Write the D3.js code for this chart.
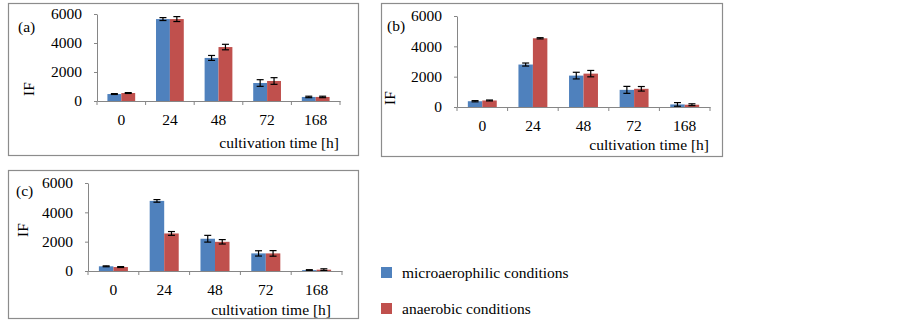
<!DOCTYPE html>
<html>
<head>
<meta charset="utf-8">
<script src="https://cdn.jsdelivr.net/npm/d3@7"></script>
<style>
  body { margin: 0; background: #fff; }
  text { font-family: "Liberation Serif", "Times New Roman", serif; fill: #000; }
</style>
</head>
<body>
<svg id="chart" width="902" height="325"></svg>
<script>
// Chart data
const categories = ["0", "24", "48", "72", "168"];
const yTicks = [0, 2000, 4000, 6000];
const seriesNames = ["microaerophilic conditions", "anaerobic conditions"];
const seriesColors = ["#4F81BD", "#C0504D"];

// panel (a)
const microA = [480, 5650, 2970, 1240, 280];
const microAErr = [30, 100, 170, 230, 50];
const anaerA = [550, 5650, 3720, 1380, 280];
const anaerAErr = [30, 170, 190, 230, 50];

// panel (b)
const microB = [380, 2800, 2070, 1130, 170];
const microBErr = [40, 100, 220, 230, 120];
const anaerB = [430, 4530, 2200, 1200, 150];
const anaerBErr = [30, 40, 210, 150, 60];

// panel (c)
const microC = [320, 4780, 2200, 1200, 60];
const microCErr = [30, 90, 230, 180, 30];
const anaerC = [270, 2560, 1990, 1200, 90];
const anaerCErr = [30, 130, 150, 190, 60];

const svg = d3.select("#chart");

// Draws one boxed panel
const drawPanel = (cfg, micro, microErr, anaer, anaerErr) => {
    let g = svg.append("g");

    // frame
    g.append("rect")
        .attr("x", cfg.frame[0] + 0.5).attr("y", cfg.frame[1] + 0.5)
        .attr("width", cfg.frame[2]).attr("height", cfg.frame[3])
        .attr("fill", "#fff").attr("stroke", "#8c8c8c").attr("stroke-width", 1.2);

    let x = d3.scaleBand()
        .domain(categories)
        .range([cfg.left, cfg.right])
        .paddingInner(0.4286)
        .paddingOuter(0.2143);
    let xInner = d3.scaleBand()
        .domain([0, 1])
        .range([0, x.bandwidth()]);
    let y = d3.scaleLinear()
        .domain([0, 6000])
        .range([cfg.bottom, cfg.top]);

    // bars
    let rows = categories.map((c, i) => ({
        cat: c,
        vals: [[micro[i], microErr[i]], [anaer[i], anaerErr[i]]]
    }));
    let groups = g.selectAll("g.grp")
        .data(rows)
        .enter()
        .append("g")
        .attr("class", "grp")
        .attr("transform", d => `translate(${x(d.cat)},0)`);

    groups.selectAll("rect")
        .data(d => d.vals)
        .enter()
        .append("rect")
        .attr("x", (d, j) => xInner(j))
        .attr("y", d => y(d[0]))
        .attr("width", xInner.bandwidth())
        .attr("height", d => y(0) - y(d[0]))
        .attr("fill", (d, j) => seriesColors[j]);

    // error bars
    let err = groups.selectAll("g.err")
        .data(d => d.vals)
        .enter()
        .append("g")
        .attr("class", "err")
        .attr("stroke", "#000")
        .attr("stroke-width", 1.2);
    err.append("line")
        .attr("x1", (d, j) => xInner(j) + xInner.bandwidth() / 2)
        .attr("x2", (d, j) => xInner(j) + xInner.bandwidth() / 2)
        .attr("y1", d => y(d[0] + d[1]))
        .attr("y2", d => y(d[0] - d[1]));
    [1, -1].forEach(s => {
        err.append("line")
            .attr("x1", (d, j) => xInner(j) + xInner.bandwidth() / 2 - 3.5)
            .attr("x2", (d, j) => xInner(j) + xInner.bandwidth() / 2 + 3.5)
            .attr("y1", d => y(d[0] + s * d[1]))
            .attr("y2", d => y(d[0] + s * d[1]));
    });

    // y axis
    let yAxis = g.append("g")
        .attr("transform", `translate(${cfg.left},0)`)
        .call(d3.axisLeft(y).tickValues(yTicks).tickFormat(d3.format("d"))
            .tickSize(3).tickPadding(12).tickSizeOuter(0));
    yAxis.selectAll("text").style("font-size", "15.5px").style("font-family", "Liberation Serif");

    // x axis
    let xAxis = g.append("g")
        .attr("transform", `translate(0,${cfg.bottom})`)
        .call(d3.axisBottom(x).tickSize(0).tickPadding(13).tickSizeOuter(0));
    xAxis.selectAll("text").style("font-size", "15.5px").style("font-family", "Liberation Serif");
    // boundary ticks between categories
    let bounds = d3.range(categories.length + 1).map(i => cfg.left + i * x.step());
    xAxis.selectAll("line.bound")
        .data(bounds)
        .enter()
        .append("line")
        .attr("class", "bound")
        .attr("x1", d => d).attr("x2", d => d)
        .attr("y1", 0).attr("y2", 4)
        .attr("stroke", "#868686");

    g.selectAll(".domain, .tick line").attr("stroke", "#868686");

    // panel letter
    g.append("text")
        .attr("x", cfg.label[0]).attr("y", cfg.label[1])
        .style("font-size", "15.5px")
        .text(cfg.name);

    // y title
    g.append("text")
        .attr("transform", `translate(${cfg.ytitle[0]},${cfg.ytitle[1]}) rotate(-90)`)
        .attr("text-anchor", "middle")
        .style("font-size", "15.5px")
        .text("IF");

    // x title
    g.append("text")
        .attr("x", cfg.xtitle[0]).attr("y", cfg.xtitle[1])
        .attr("text-anchor", "end")
        .style("font-size", "15.5px")
        .text("cultivation time [h]");
};

drawPanel({
    name: "(a)", frame: [8, 3, 350, 152],
    left: 97, right: 340, top: 14, bottom: 101,
    label: [18, 32], ytitle: [34, 89], xtitle: [339, 148]
}, microA, microAErr, anaerA, anaerAErr);

drawPanel({
    name: "(b)", frame: [381, 3, 341, 153],
    left: 457, right: 710, top: 16, bottom: 107,
    label: [387, 31], ytitle: [395, 98], xtitle: [709, 150]
}, microB, microBErr, anaerB, anaerBErr);

drawPanel({
    name: "(c)", frame: [8, 170, 350, 148],
    left: 88, right: 342, top: 183, bottom: 271,
    label: [16, 196], ytitle: [28, 230], xtitle: [331, 315]
}, microC, microCErr, anaerC, anaerCErr);

// legend
let legend = svg.append("g");
seriesNames.forEach((name, i) => {
    legend.append("rect")
        .attr("x", 381).attr("y", 267 + i * 36)
        .attr("width", 11).attr("height", 11)
        .attr("fill", seriesColors[i]);
    legend.append("text")
        .attr("x", 402).attr("y", 278 + i * 36)
        .style("font-size", "15.5px")
        .text(name);
});
</script>
</body>
</html>
